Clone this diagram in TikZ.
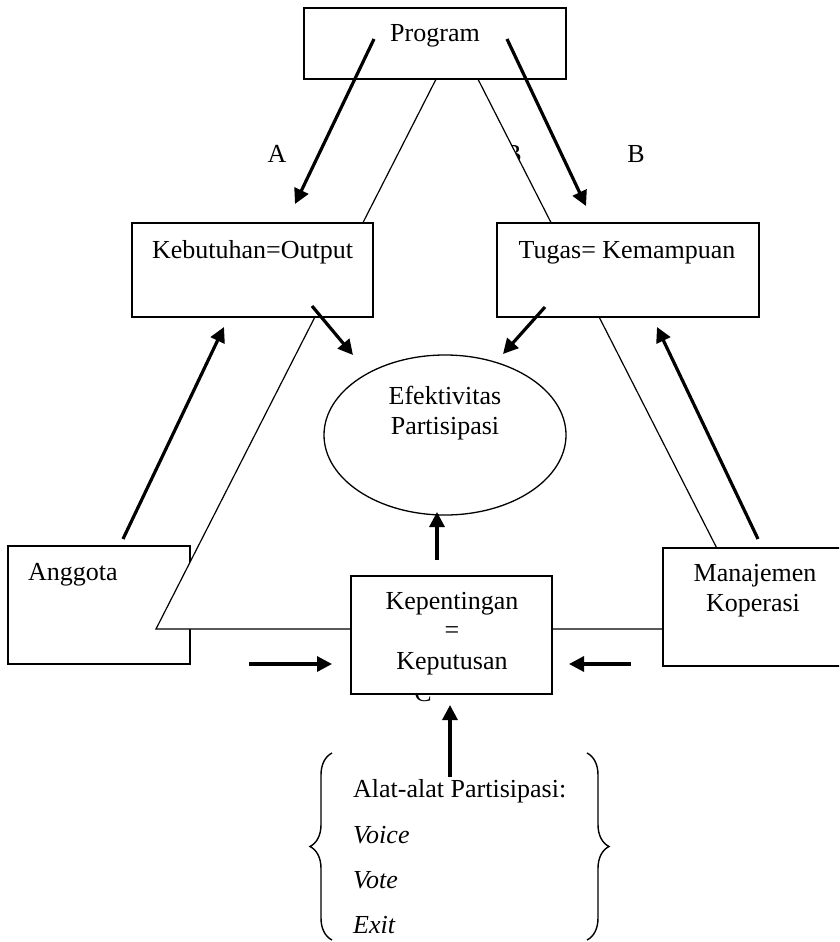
\documentclass[tikz,border=0pt]{standalone}
\usepackage{fontspec}
\setmainfont{Liberation Serif}
\usetikzlibrary{arrows.meta,decorations.pathreplacing,shapes.geometric}
\begin{document}
\begin{tikzpicture}[x=1pt,y=-1pt,
  box/.style={draw,line width=1.7pt,fill=white,inner sep=0pt},
  tri/.style={draw,line width=1.2pt,fill=white},
  arr/.style={line width=3.2pt,-{Triangle[length=15pt,width=15pt]}},
  txt/.style={font=\fontsize{26}{32}\selectfont,inner sep=0pt,anchor=base},
  brc/.style={draw,line width=1.4pt,decorate,decoration={brace,amplitude=22pt}},
]
\clip (0,0) rectangle (839,942);
\fill[white] (0,0) rectangle (839,942);

% labels that lie partly under other shapes
\node[txt] (lA) at (277,162) {A};
\node[txt] (lB) at (636,162) {B};
\node[txt] (lBh) at (513,162) {B};
\node[txt] (lC) at (423,701) {C};

% Anggota box (under the triangle)
\node[box,minimum width=182pt,minimum height=118pt] (ang) at (99,605) {};

% triangle
\coordinate (apex) at (457,38);
\coordinate (tL) at (156,629);
\coordinate (tR) at (758,629);
\draw[tri] (apex) -- (tL) -- (tR) -- cycle;

% boxes
\node[box,minimum width=262pt,minimum height=71pt] (prog) at (435,43.5) {};
\node[box,minimum width=241pt,minimum height=94pt] (keb) at (252.5,270) {};
\node[box,minimum width=262pt,minimum height=94pt] (tug) at (628,270) {};
\node[box,minimum width=201pt,minimum height=118pt] (kep) at (451.5,635) {};
\node[box,minimum width=187pt,minimum height=118pt] (man) at (756.5,607) {};
\node[draw,ellipse,line width=1.3pt,fill=white,minimum width=242pt,minimum height=160pt,inner sep=0pt] (eff) at (445,435) {};

% texts
\node[txt] (tProg) at (435,42) {Program};
\node[txt] (tKeb) at (252.5,258) {Kebutuhan=Output};
\node[txt] (tTug) at (627,258) {Tugas= Kemampuan};
\node[txt] (tEf1) at (445,404) {Efektivitas};
\node[txt] (tEf2) at (445,434) {Partisipasi};
\node[txt,anchor=base west] (tAng) at (28,580) {Anggota};
\node[txt] (tKep1) at (452,609) {Kepentingan};
\node[txt] (tKep2) at (452,638) {=};
\node[txt] (tKep3) at (452,669) {Keputusan};
\node[txt] (tMan1) at (755,581) {Manajemen};
\node[txt] (tMan2) at (753,611) {Koperasi};
\node[txt,anchor=base west] (tAl) at (353,797) {Alat-alat Partisipasi:};
\node[txt,anchor=base west] (tVo) at (353,843) {\itshape Voice};
\node[txt,anchor=base west] (tVt) at (353,888) {\itshape Vote};
\node[txt,anchor=base west] (tEx) at (353,933) {\itshape Exit};

% arrow end points
\coordinate (a1s) at (374,39);  \coordinate (a1e) at (295,204);
\coordinate (a2s) at (507,39);  \coordinate (a2e) at (586,206);
\coordinate (a3s) at (312,306); \coordinate (a3e) at (353,355);
\coordinate (a4s) at (545,307); \coordinate (a4e) at (503,354);
\coordinate (a5s) at (123,539); \coordinate (a5e) at (224,327);
\coordinate (a6s) at (758,539); \coordinate (a6e) at (657,327);
\coordinate (a7s) at (437,560); \coordinate (a7e) at (437,512);
\coordinate (a8s) at (249,664); \coordinate (a8e) at (332,664);
\coordinate (a9s) at (631,664); \coordinate (a9e) at (569,664);
\coordinate (a10s) at (450,777); \coordinate (a10e) at (450,705);

\draw[arr] (a1s) -- (a1e);
\draw[arr] (a2s) -- (a2e);
\draw[arr] (a3s) -- (a3e);
\draw[arr] (a4s) -- (a4e);
\draw[arr] (a5s) -- (a5e);
\draw[arr] (a6s) -- (a6e);
\draw[arr] (a7s) -- (a7e);
\draw[arr] (a8s) -- (a8e);
\draw[arr] (a9s) -- (a9e);
\draw[arr] (a10s) -- (a10e);

% braces
\coordinate (lb1) at (332,940); \coordinate (lb2) at (332,753);
\coordinate (rb1) at (587,753); \coordinate (rb2) at (587,940);
\draw[brc] (lb1) -- (lb2);
\draw[brc] (rb1) -- (rb2);
\end{tikzpicture}
\end{document}
